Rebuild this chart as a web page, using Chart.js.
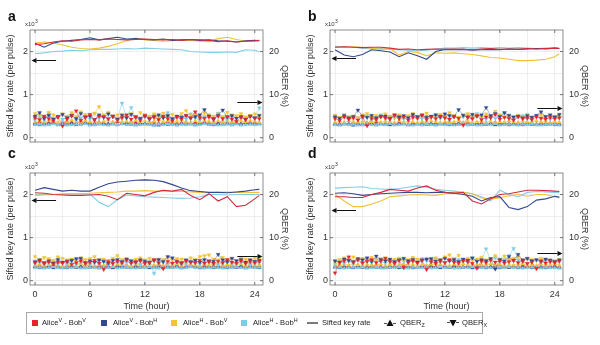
<!DOCTYPE html>
<html>
<head>
<meta charset="utf-8">
<script src="https://cdn.jsdelivr.net/npm/chart.js@4.4.1/dist/chart.umd.min.js"></script>
<style>
  html, body { margin: 0; padding: 0; background: #fff; }
  body { width: 600px; height: 345px; overflow: hidden; position: relative;
         font-family: "Liberation Sans", Arial, sans-serif; color: #222; }
  canvas.panel { position: absolute; }
  #legend { position: absolute; left: 26px; top: 312px; width: 455px; height: 20px;
            border: 1px solid #a8a8a8; font-size: 7.6px; }
  #legend .sw { position: absolute; top: 7px; width: 6px; height: 6px; }
  #legend .tx { position: absolute; top: 0; height: 20px; line-height: 20px; white-space: nowrap; }
  #legend .mk { position: absolute; top: 6px; }
  #legend sup { font-size: 5.4px; vertical-align: 3px; line-height: 0; }
  #legend sub { font-size: 5.4px; vertical-align: -1.5px; line-height: 0; }
</style>
</head>
<body>
<canvas id="pa" class="panel" width="300" height="160" style="left:0;top:0"></canvas>
<canvas id="pb" class="panel" width="300" height="160" style="left:300px;top:0"></canvas>
<canvas id="pc" class="panel" width="300" height="172" style="left:0;top:143px"></canvas>
<canvas id="pd" class="panel" width="300" height="172" style="left:300px;top:143px"></canvas>

<div id="legend">
  <span class="sw" style="left:5px;background:#e3262c"></span>
  <span class="tx" style="left:15px">Alice<sup>V</sup> - Bob<sup>V</sup></span>
  <span class="sw" style="left:74px;background:#32488e"></span>
  <span class="tx" style="left:86px">Alice<sup>V</sup> - Bob<sup>H</sup></span>
  <span class="sw" style="left:144px;background:#f3c431"></span>
  <span class="tx" style="left:156px">Alice<sup>H</sup> - Bob<sup>V</sup></span>
  <span class="sw" style="left:214px;background:#7dcbe6"></span>
  <span class="tx" style="left:226px">Alice<sup>H</sup> - Bob<sup>H</sup></span>
  <svg class="mk" style="left:280px" width="11" height="8"><line x1="0" y1="4" x2="11" y2="4" stroke="#222" stroke-width="1.2"/></svg>
  <span class="tx" style="left:295px">Sifted key rate</span>
  <svg class="mk" style="left:357px" width="12" height="8"><line x1="0" y1="4.5" x2="3" y2="4.5" stroke="#222" stroke-width="0.8"/><line x1="9" y1="4.5" x2="12" y2="4.5" stroke="#222" stroke-width="0.8"/><polygon points="6,0.5 9.5,7 2.5,7" fill="#111"/></svg>
  <span class="tx" style="left:373px">QBER<sub>Z</sub></span>
  <svg class="mk" style="left:420px" width="12" height="8"><line x1="0" y1="3.5" x2="3" y2="3.5" stroke="#222" stroke-width="0.8"/><line x1="9" y1="3.5" x2="12" y2="3.5" stroke="#222" stroke-width="0.8"/><polygon points="2.5,1 9.5,1 6,7.5" fill="#111"/></svg>
  <span class="tx" style="left:435px">QBER<sub>X</sub></span>
</div>

<script>
// ---- time bases (hours) ----
const lineHours = [0,1,2,3,4,5,6,7,8,9,10,11,12,13,14,15,16,17,18,19,20,21,22,23,24,24.5];
const qberHours = [
  0,0.5,1,1.5,2,2.5,3,3.5,4,4.5,
  5,5.5,6,6.5,7,7.5,8,8.5,9,9.5,
  10,10.5,11,11.5,12,12.5,13,13.5,14,14.5,
  15,15.5,16,16.5,17,17.5,18,18.5,19,19.5,
  20,20.5,21,21.5,22,22.5,23,23.5,24,24.5];

// ---- axis ticks and labels ----
const hourTicks = [0,3,6,9,12,15,18,21,24];
const hourTickLabels = ['0','','6','','12','','18','','24'];
const keyTicks = [0,0.5,1,1.5,2];
const keyTickLabels = ['0','','1','','2'];
const qberTicks = [0,5,10,15,20];
const qberTickLabels = ['0','','10','','20'];

// ---- panel a : sifted key rate (x10^-3 per pulse) ----
const aKeyRed    = [2.16,2.18,2.22,2.25,2.24,2.27,2.28,2.27,2.29,2.28,2.27,2.28,2.29,2.28,2.27,2.28,2.26,2.28,2.27,2.26,2.23,2.25,2.22,2.24,2.25,2.26];
const aKeyBlue   = [2.19,2.10,2.20,2.24,2.26,2.28,2.32,2.27,2.30,2.33,2.29,2.30,2.28,2.27,2.29,2.26,2.27,2.28,2.26,2.27,2.25,2.24,2.22,2.25,2.26,2.25];
const aKeyYellow = [2.20,2.22,2.20,2.15,2.10,2.07,2.06,2.08,2.12,2.18,2.25,2.31,2.27,2.26,2.24,2.25,2.27,2.26,2.24,2.23,2.30,2.33,2.28,2.24,2.25,2.25];
const aKeyCyan   = [1.95,1.97,2.00,2.01,2.03,2.02,2.04,2.05,2.05,2.06,2.07,2.06,2.08,2.07,2.06,2.05,2.04,2.00,1.99,1.98,1.98,1.99,1.98,2.04,2.03,1.99];
// panel a : QBER (%)
const aQzRed = [3.4,3.6,3.3,3.5,3.7,3.2,3.4,3.6,3.5,3.3, 3.8,3.4,3.5,3.3,3.6,3.4,3.2,3.5,3.7,3.4, 3.3,3.6,3.5,3.4,3.2,3.5,3.6,3.3,3.4,3.7, 3.5,3.3,3.4,3.6,3.2,3.5,3.4,3.6,3.3,3.5, 3.4,3.7,3.3,3.5,3.4,3.2,3.6,3.4,3.5,3.3];
const aQxRed = [4.6,4.2,5.0,4.4,3.9,4.8,2.7,4.3,5.1,6.2, 4.0,4.7,5.4,4.2,5.0,4.9,4.4,5.0,4.1,4.6, 5.3,4.3,4.8,4.0,5.2,4.5,4.7,4.2,5.0,4.4, 3.9,4.8,4.3,5.1,4.6,6.0,4.6,4.5,4.8,4.2, 5.0,4.4,4.9,4.3,3.8,4.7,4.2,5.0,4.5,4.4];
const aQzBlue = [3.2,3.0,3.3,3.1,3.4,3.0,3.2,3.1,3.3,3.0, 3.2,3.4,3.1,3.0,3.3,3.2,3.1,3.3,3.0,3.2, 3.4,3.1,3.0,3.2,3.3,3.1,3.0,2.9,3.2,3.1, 3.3,3.0,3.2,3.1,3.4,3.0,3.2,3.3,3.1,3.0, 3.2,3.1,3.3,3.0,3.2,3.1,3.4,3.2,3.1,3.3];
const aQxBlue = [5.0,5.8,4.5,5.2,4.3,4.9,5.4,4.6,5.1,4.4, 5.6,4.8,5.0,4.2,5.3,4.7,5.5,4.9,4.3,5.2, 4.6,5.4,4.8,4.5,5.0,4.3,4.9,5.3,4.6,5.1, 4.4,5.0,4.7,5.2,4.5,4.9,5.3,6.5,5.0,4.4, 5.2,6.4,4.8,5.1,4.5,4.9,4.3,5.0,4.6,5.2];
const aQzYellow = [3.7,3.9,3.6,4.0,3.8,3.5,3.9,3.7,4.1,3.8, 3.6,4.0,3.7,3.9,3.5,3.8,4.0,3.6,3.9,3.7, 3.8,3.6,4.0,3.7,3.9,3.6,3.8,4.1,3.7,3.9, 3.6,3.8,4.0,3.7,3.5,3.9,3.7,4.0,3.8,3.6, 3.9,3.7,4.0,3.6,3.8,3.9,3.7,4.0,3.8,3.6];
const aQxYellow = [5.6,5.2,4.8,5.9,5.3,4.7,5.5,5.0,5.8,4.9, 6.0,5.4,5.1,5.7,7.2,5.3,5.9,5.0,5.3,5.4, 5.1,5.6,4.9,5.8,5.3,5.0,5.5,4.8,5.7,5.2, 5.4,4.9,5.6,6.3,5.1,5.4,4.8,5.7,5.2,5.0, 5.5,4.9,5.9,5.3,5.1,5.6,4.8,5.2,5.5,5.0];
const aQzCyan = [3.0,3.1,2.9,3.0,3.2,3.0,3.1,2.9,3.0,3.1, 3.0,3.2,2.9,3.0,3.1,3.0,2.9,3.1,3.0,3.2, 3.0,3.1,2.9,3.0,3.1,3.0,2.8,3.1,3.0,3.2, 3.0,2.9,3.1,3.0,3.1,2.9,3.0,3.2,3.0,3.1, 2.9,3.0,3.1,3.0,3.2,2.9,3.0,3.1,3.0,3.1];
const aQxCyan = [4.2,4.8,4.0,5.5,4.4,5.0,4.3,4.7,5.3,4.1, 4.6,5.0,4.3,5.6,4.5,4.9,4.2,5.1,4.4,8.0, 4.8,7.0,4.6,4.3,5.0,4.5,5.2,4.4,4.9,5.8, 4.2,4.7,5.0,4.3,5.5,4.6,4.1,4.9,5.3,4.4, 5.7,4.6,4.2,5.0,4.5,4.8,4.3,5.1,4.6,6.9];

// ---- panel b ----
const bKeyRed    = [2.10,2.11,2.10,2.09,2.10,2.10,2.08,2.05,2.06,2.04,2.05,2.06,2.05,2.06,2.05,2.04,2.06,2.07,2.05,2.06,2.05,2.07,2.06,2.07,2.08,2.07];
const bKeyBlue   = [2.04,1.92,1.88,1.93,2.04,2.02,1.99,1.88,1.97,1.90,1.82,2.00,2.05,2.04,2.05,2.03,2.04,2.05,2.04,2.06,2.05,2.06,2.07,2.06,2.08,2.07];
const bKeyYellow = [2.10,2.10,2.11,2.10,2.08,2.05,2.07,1.92,2.00,1.98,1.90,1.97,1.96,1.97,1.95,1.93,1.90,1.86,1.85,1.82,1.79,1.79,1.80,1.82,1.88,1.95];
const bKeyCyan   = [2.12,2.11,2.10,2.08,2.06,2.07,2.05,2.04,2.03,2.02,2.03,2.06,2.08,2.08,2.09,2.08,2.09,2.08,2.09,2.08,2.09,2.08,2.07,2.08,2.08,2.08];
const bQzRed = [3.3,3.1,3.4,3.2,3.5,3.3,3.1,3.4,3.2,3.6, 3.3,3.1,3.4,3.2,3.5,3.3,3.0,3.4,3.2,3.3, 3.5,3.1,3.4,3.2,3.3,3.6,3.1,3.4,3.2,3.5, 3.3,3.2,3.4,3.1,3.3,3.5,3.2,3.4,3.3,3.1, 3.4,3.2,3.5,3.3,3.1,3.4,3.2,3.3,3.5,3.2];
const bQxRed = [4.4,4.0,4.8,4.3,4.6,4.1,4.9,2.8,4.5,4.2, 5.0,4.6,4.3,5.2,4.4,4.8,4.1,4.7,4.5,5.3, 4.2,4.8,4.4,5.0,4.6,4.3,4.9,4.5,2.9,4.7, 4.4,5.1,4.2,4.8,4.6,5.4,4.3,4.7,4.5,4.1, 4.9,4.4,4.6,4.2,4.8,4.5,4.3,4.7,4.4,4.6];
const bQzBlue = [3.1,3.0,3.2,3.1,2.9,3.2,3.0,3.1,3.3,3.0, 3.2,3.1,3.0,3.2,3.1,3.3,3.0,3.1,3.2,3.0, 3.1,3.3,3.0,3.2,3.1,3.0,3.2,3.1,3.3,3.0, 3.1,3.2,3.0,3.1,3.2,3.0,3.1,3.3,3.0,3.2, 3.1,3.0,3.2,3.1,3.0,3.2,3.1,3.3,3.0,3.1];
const bQxBlue = [4.8,4.5,5.1,4.6,4.9,6.4,5.0,4.7,5.2,4.6, 4.9,5.0,4.5,5.3,4.8,5.1,4.6,5.4,4.9,5.2, 4.7,5.0,5.3,4.8,5.5,5.1,4.9,6.5,5.2,4.8, 5.4,5.0,5.3,7.0,5.1,5.6,4.9,5.8,5.2,4.8, 5.0,4.6,5.1,4.7,5.2,6.0,4.9,5.3,4.8,5.4];
const bQzYellow = [3.6,3.8,3.5,3.9,3.7,3.6,3.8,3.5,3.7,3.9, 3.6,3.8,3.7,3.5,3.9,3.6,3.8,3.7,3.5,3.8, 3.6,3.9,3.7,3.5,3.8,3.6,3.7,3.9,3.5,3.8, 3.6,3.7,3.9,3.6,3.8,3.5,3.7,3.6,3.9,3.7, 3.5,3.8,3.6,3.7,3.9,3.6,3.8,3.5,3.7,3.6];
const bQxYellow = [5.1,4.7,5.4,4.9,5.0,4.6,5.3,5.6,4.8,5.2, 4.7,5.5,5.0,4.9,5.3,4.8,5.1,5.6,4.9,5.2, 5.7,4.8,5.0,5.4,4.9,5.8,5.1,4.7,5.3,5.6, 4.9,5.2,4.8,5.5,5.0,6.1,5.3,4.9,5.1,4.7, 5.2,4.9,5.4,4.8,5.0,5.3,4.7,5.1,4.9,5.2];
const bQzCyan = [3.0,2.9,3.1,3.0,3.1,2.9,3.0,3.2,3.0,2.9, 3.1,3.0,3.2,2.9,3.0,3.1,3.0,2.9,3.1,3.0, 3.2,3.0,2.9,3.1,3.0,3.1,2.9,3.0,3.2,3.0, 3.1,2.9,3.0,3.1,3.0,3.2,2.9,3.0,3.1,3.0, 2.9,3.1,3.0,3.2,3.0,2.9,3.1,3.0,3.1,2.9];
const bQxCyan = [5.2,4.5,4.8,4.3,5.0,4.6,4.4,5.1,4.2,4.7, 5.3,4.4,4.9,4.5,5.0,4.3,4.8,5.2,4.6,4.4, 5.0,4.7,5.3,4.5,4.9,4.2,5.1,4.6,4.8,5.4, 4.4,5.6,4.7,4.3,5.0,4.5,4.9,5.7,4.6,4.3, 4.8,5.1,4.4,4.7,5.0,4.5,4.9,4.3,4.6,4.8];

// ---- panel c ----
const cKeyRed    = [2.04,2.03,2.00,1.99,1.98,1.98,1.99,2.00,1.96,1.88,2.03,2.00,1.97,2.05,2.10,2.08,2.12,1.98,1.88,2.02,1.85,1.95,1.72,1.75,1.90,1.98];
const cKeyBlue   = [2.10,2.16,2.12,2.08,2.10,2.08,2.08,2.17,2.25,2.29,2.31,2.33,2.34,2.33,2.30,2.23,2.15,2.09,2.07,2.05,2.05,2.04,2.06,2.08,2.11,2.12];
const cKeyYellow = [1.98,1.99,2.00,2.01,2.02,2.02,2.03,2.04,2.05,2.06,2.08,2.08,2.09,2.08,2.08,2.07,2.08,2.06,2.05,2.04,2.05,2.06,2.05,2.04,2.05,2.05];
const cKeyCyan   = [2.00,2.00,2.00,2.01,2.02,2.02,2.01,1.82,1.72,1.88,1.99,1.97,1.95,1.94,1.93,1.92,1.91,1.92,1.95,2.00,2.00,1.99,2.00,2.00,2.00,2.00];
const cQzRed = [3.3,3.5,3.2,3.4,3.6,3.3,3.1,3.4,3.5,3.2, 3.3,3.6,3.4,3.2,3.5,3.3,3.4,3.1,3.5,3.3, 3.6,3.2,3.4,3.3,3.5,3.2,3.4,3.6,3.3,3.1, 3.4,3.5,3.2,3.3,3.6,3.4,3.2,3.5,3.3,3.4, 3.1,3.5,3.3,3.6,3.2,3.4,3.3,3.5,3.2,3.4];
const cQxRed = [4.2,4.6,4.0,4.4,3.9,4.3,4.1,4.5,3.8,4.2, 4.6,4.0,4.3,4.7,4.1,2.6,4.4,4.0,4.5,4.2, 4.8,4.1,4.4,4.6,4.0,4.3,4.9,4.2,2.8,4.5, 4.1,4.4,4.0,4.6,4.3,4.2,4.7,4.1,4.4,4.0, 4.5,4.2,4.9,4.3,4.1,4.6,4.0,4.4,4.2,4.5];
const cQzBlue = [3.2,3.0,3.1,3.3,3.0,3.2,3.1,3.0,3.3,3.1, 3.2,3.0,3.1,3.3,3.0,3.2,3.1,3.0,3.2,3.3, 3.1,3.0,3.2,3.1,3.3,3.0,3.1,3.2,3.0,3.3, 3.1,3.2,3.0,3.1,3.3,3.2,3.0,3.1,3.2,3.0, 3.3,3.1,3.0,3.2,3.1,3.3,3.0,3.2,3.1,3.0];
const cQxBlue = [4.4,4.8,4.2,4.6,4.1,4.9,4.3,4.5,4.7,5.1, 5.2,4.2,4.6,4.3,4.8,4.5,4.1,4.7,4.9,4.4, 5.0,4.6,4.3,4.8,4.5,4.2,4.7,4.9,4.4,5.6, 5.3,4.5,4.2,4.8,4.4,4.7,4.3,4.9,4.6,4.5, 6.1,4.8,4.4,5.2,4.6,4.9,4.3,4.8,4.5,4.7];
const cQzYellow = [3.6,3.8,3.5,3.7,3.9,3.6,3.4,3.8,3.7,3.5, 3.9,3.6,3.8,3.5,3.7,3.6,3.9,3.5,3.8,3.7, 3.6,3.4,3.8,3.7,3.5,3.9,3.6,3.8,3.5,3.7, 3.6,3.9,3.5,3.8,3.7,3.6,3.5,3.8,3.6,3.9, 3.7,3.5,3.8,3.6,3.7,3.9,3.5,3.8,3.6,3.7];
const cQxYellow = [5.6,4.9,5.4,5.1,4.7,5.5,5.2,4.8,5.0,4.6, 5.3,4.9,5.1,5.6,4.8,5.0,4.7,5.2,5.8,4.9, 5.1,4.6,5.0,5.3,4.8,5.2,4.7,5.0,4.9,5.4, 4.8,5.1,5.0,4.7,5.3,4.9,5.6,5.8,6.0,5.0, 4.8,5.4,4.9,5.1,4.7,5.2,5.0,4.8,5.3,4.9];
const cQzCyan = [3.0,3.1,2.9,3.0,3.2,3.0,2.9,3.1,3.0,3.2, 2.9,3.0,3.1,3.0,2.9,3.1,3.0,3.2,2.9,3.0, 3.1,3.0,2.9,3.1,3.0,3.2,3.0,2.9,3.1,3.0, 3.0,3.1,2.9,3.0,3.2,3.0,3.1,2.9,3.0,3.1, 3.0,2.9,3.1,3.0,3.2,3.0,2.9,3.1,3.0,3.1];
const cQxCyan = [4.0,4.3,3.8,4.1,4.4,3.9,4.2,4.0,4.5,3.8, 4.2,4.1,3.9,4.3,4.0,4.4,3.7,4.1,4.2,3.9, 4.3,4.0,4.1,3.8,4.2,4.4,1.7,4.0,4.3,3.9, 4.1,4.2,3.8,4.0,4.3,4.1,3.9,4.2,4.4,4.0, 3.8,4.1,4.3,4.0,3.9,4.2,4.1,3.8,4.0,4.2];

// ---- panel d ----
const dKeyRed    = [1.95,1.95,1.93,1.93,2.00,2.05,2.12,2.10,2.08,2.15,2.20,2.10,2.05,2.03,2.05,1.85,1.78,1.90,2.00,2.02,2.06,2.10,2.10,2.09,2.08,2.07];
const dKeyBlue   = [2.03,2.04,2.02,1.98,2.00,2.02,2.03,2.04,2.05,2.05,2.04,2.05,2.05,2.03,2.00,1.96,1.85,1.93,1.95,1.70,1.65,1.72,1.87,1.90,1.96,1.94];
const dKeyYellow = [2.00,1.85,1.72,1.72,1.78,1.85,1.95,1.97,1.99,2.00,1.99,1.98,2.02,2.05,2.05,2.02,1.92,1.90,1.92,1.97,2.00,1.96,2.00,2.00,1.95,1.92];
const dKeyCyan   = [2.15,2.16,2.17,2.18,2.14,2.13,2.12,2.14,2.17,2.20,2.17,2.12,2.10,2.08,2.05,2.02,1.95,1.85,2.10,2.00,1.95,2.05,2.07,2.06,2.05,2.04];
const dQzRed = [3.3,3.5,3.2,3.4,3.1,3.5,3.3,3.2,3.4,3.6, 3.3,3.1,3.4,3.2,3.5,3.3,3.4,3.2,3.1,3.5, 3.3,3.4,3.2,3.6,3.3,3.1,3.4,3.5,3.2,3.3, 3.4,3.1,3.5,3.3,3.2,3.4,3.6,3.3,3.1,3.4, 3.2,3.5,3.3,3.4,3.2,3.1,3.5,3.3,3.4,3.2];
const dQxRed = [1.8,4.2,4.6,5.5,4.3,4.8,4.1,4.5,4.9,4.2, 4.6,5.2,4.4,4.0,4.7,3.0,4.3,4.6,4.1,4.8, 2.6,4.4,4.0,4.5,4.2,4.9,4.3,4.1,4.6,4.4, 4.0,2.9,4.5,4.2,4.8,4.3,4.6,4.1,4.4,4.7, 4.2,4.5,4.0,4.3,2.8,4.6,4.1,4.4,4.2,4.5];
const dQzBlue = [3.1,3.0,3.2,3.1,3.0,3.3,3.1,3.0,3.2,3.1, 3.0,3.2,3.1,3.3,3.0,3.1,3.2,3.0,3.1,3.3, 3.0,3.2,3.1,3.0,3.2,3.1,3.3,3.0,3.1,3.2, 3.0,3.1,3.3,3.0,3.2,3.1,3.0,3.2,3.1,3.3, 3.0,3.1,3.2,3.0,3.1,3.2,3.0,3.1,3.2,3.0];
const dQxBlue = [4.6,4.3,5.0,4.7,4.4,5.1,4.8,5.3,4.5,5.7, 4.9,4.6,5.0,4.4,4.8,5.2,4.6,4.9,4.3,4.7, 5.0,5.1,4.5,4.8,5.2,4.6,4.9,4.4,5.0,4.7, 5.3,4.5,4.8,4.6,5.1,2.7,4.9,4.5,5.6,4.7, 6.1,4.8,5.2,4.6,4.9,4.5,5.0,4.7,4.4,4.8];
const dQzYellow = [3.7,3.5,3.8,3.6,3.9,3.7,3.5,3.8,3.6,3.7, 3.9,3.5,3.8,3.6,3.7,3.9,3.6,3.8,3.5,3.7, 3.6,3.8,3.9,3.6,3.7,3.5,3.8,3.6,3.9,3.7, 3.5,3.8,3.6,3.7,3.9,3.6,3.8,3.5,3.7,3.6, 3.8,3.9,3.6,3.7,3.5,3.8,3.6,3.7,3.9,3.6];
const dQxYellow = [4.3,4.9,5.3,4.7,5.5,5.0,5.2,4.8,5.4,4.9, 5.1,5.3,4.7,5.0,5.2,4.8,4.9,5.4,5.0,4.7, 5.1,4.9,5.3,4.8,5.5,6.0,5.1,5.9,4.9,5.2, 4.7,5.0,5.4,4.8,5.1,5.8,5.0,5.7,4.9,5.2, 5.5,4.8,5.1,4.9,4.7,5.2,5.0,4.8,4.6,4.9];
const dQzCyan = [3.0,3.1,2.9,3.0,3.1,3.0,3.2,2.9,3.0,3.1, 3.0,2.9,3.1,3.0,3.2,3.0,2.9,3.1,3.0,3.0, 3.1,2.9,3.0,3.2,3.0,3.1,2.9,3.0,3.1,3.0, 3.2,2.9,3.0,3.1,3.0,2.9,3.1,3.0,3.2,3.0, 3.1,2.9,3.0,3.1,3.0,2.9,3.1,3.0,3.0,2.9];
const dQxCyan = [3.8,4.4,4.1,4.6,4.0,4.8,4.3,4.5,4.2,4.9, 4.4,4.1,4.7,4.3,5.0,4.5,4.2,4.8,4.4,5.1, 4.6,4.3,5.0,4.5,4.2,4.7,4.4,4.9,4.6,4.3, 5.2,4.5,5.0,7.4,4.7,5.3,4.6,4.9,5.8,7.5, 4.8,4.5,5.0,4.4,4.7,4.3,4.6,4.9,4.5,4.7];

// level of the axis-indicator arrows: key-rate side and QBER side, per panel
const keyArrowLevel  = [1.81, 1.85, 1.87, 1.65];
const qberArrowLevel = [8.2, 6.8, 5.8, 6.5];
const arrowTailHours = [2.3, 22.1];

// ---- styling ----
const FONT = '"Liberation Sans", Arial, sans-serif';
const SERIES_COLORS = ['#e3262c', '#32488e', '#f3c431', '#7dcbe6'];
const LINE_COLORS   = ['#d22a3c', '#34498d', '#f1c236', '#84cde6'];
const LINK_COLORS   = ['rgba(227,38,44,0.7)', 'rgba(50,72,142,0.7)', 'rgba(243,196,49,0.85)', 'rgba(125,203,230,0.9)'];
// stacking order of the QBER layers (first one ends up on top):
// X markers above, then the Z markers with the light series uppermost
const QBER_LAYERS = [['qx', 0], ['qx', 1], ['qx', 2], ['qx', 3],
                     ['qz', 3], ['qz', 2], ['qz', 1], ['qz', 0]];

Chart.defaults.font.family = FONT;

function toPoints(xs, ys) { return ys.map((y, i) => ({ x: xs[i], y })); }

function drawArrow(ctx, x0, y, x1) {
  const dir = Math.sign(x1 - x0), hl = 5, hw = 2.4;
  ctx.beginPath(); ctx.moveTo(x0, y); ctx.lineTo(x1 - dir * hl, y); ctx.stroke();
  ctx.beginPath(); ctx.moveTo(x1, y); ctx.lineTo(x1 - dir * hl, y - hw); ctx.lineTo(x1 - dir * hl, y + hw);
  ctx.closePath(); ctx.fill();
}

// panel letter, exponent, frame, inward tick marks and axis arrows
const panelDecor = {
  id: 'panelDecor',
  afterDatasetsDraw(chart, args, o) {
    const { ctx, chartArea: a, scales: { x, yL, yR } } = chart;
    ctx.save();
    ctx.strokeStyle = '#111'; ctx.fillStyle = '#111'; ctx.lineWidth = 1;
    drawArrow(ctx, x.getPixelForValue(arrowTailHours[0]), Math.round(yL.getPixelForValue(o.keyArrow)) + 0.5, a.left + 1.5);
    drawArrow(ctx, x.getPixelForValue(arrowTailHours[1]), Math.round(yR.getPixelForValue(o.qberArrow)) + 0.5, a.right - 0.5);
    ctx.restore();
  },
  afterDraw(chart, args, o) {
    const { ctx, chartArea: a, scales: { x, yL, yR } } = chart;
    ctx.save();
    ctx.strokeStyle = '#707070'; ctx.lineWidth = 0.8;
    ctx.strokeRect(a.left, a.top, a.right - a.left, a.bottom - a.top);
    ctx.strokeStyle = '#555'; ctx.beginPath();
    hourTicks.forEach((v, i) => {
      if (!hourTickLabels[i]) return;
      const px = x.getPixelForValue(v);
      ctx.moveTo(px, a.bottom); ctx.lineTo(px, a.bottom - 3);
      ctx.moveTo(px, a.top); ctx.lineTo(px, a.top + 3);
    });
    keyTicks.forEach((v, i) => {
      if (!keyTickLabels[i]) return;
      const py = yL.getPixelForValue(v);
      ctx.moveTo(a.left, py); ctx.lineTo(a.left + 3, py);
    });
    qberTicks.forEach((v, i) => {
      if (!qberTickLabels[i]) return;
      const py = yR.getPixelForValue(v);
      ctx.moveTo(a.right, py); ctx.lineTo(a.right - 3, py);
    });
    ctx.stroke();

    ctx.fillStyle = '#111';
    ctx.textBaseline = 'alphabetic';
    ctx.font = 'bold 14px ' + FONT;
    ctx.fillText(o.letter, o.letterX, o.letterY);

    ctx.fillStyle = '#333';
    ctx.font = '6px ' + FONT;
    const ex = a.left - 5, ey = a.top - 4.5;
    ctx.fillText('x10', ex, ey);
    const w = ctx.measureText('x10').width;
    ctx.font = '5px ' + FONT;
    ctx.fillText('3', ex + w + 0.3, ey - 3);
    ctx.restore();
  }
};

function buildPanel(id, idx, cfg) {
  const datasets = [];
  for (let s = 0; s < 4; s++) {
    datasets.push({
      data: toPoints(lineHours, cfg.key[s]), yAxisID: 'yL',
      borderColor: LINE_COLORS[s], borderWidth: 1.1, pointRadius: 0, tension: 0
    });
  }
  QBER_LAYERS.forEach(([kind, s]) => {
    datasets.push({
      data: toPoints(qberHours, cfg[kind][s]), yAxisID: 'yR',
      borderColor: LINK_COLORS[s], borderWidth: 0.6, tension: 0,
      pointStyle: 'triangle', pointRotation: kind === 'qx' ? 180 : 0, pointRadius: 2.3,
      pointBackgroundColor: SERIES_COLORS[s], pointBorderColor: SERIES_COLORS[s], pointBorderWidth: 0.3
    });
  });
  const tickFont = { size: 9, family: FONT };
  const titleFont = { size: 9, family: FONT };
  new Chart(document.getElementById(id), {
    type: 'line',
    data: { datasets },
    plugins: [panelDecor],
    options: {
      responsive: false, animation: false, events: [],
      layout: { padding: { top: 30, left: 0, right: 0, bottom: 0 } },
      plugins: {
        legend: { display: false }, tooltip: { enabled: false },
        panelDecor: {
          letter: cfg.letter, letterX: 8, letterY: cfg.letterY,
          keyArrow: keyArrowLevel[idx], qberArrow: qberArrowLevel[idx]
        }
      },
      scales: {
        x: {
          type: 'linear', min: -0.55, max: 24.9,
          afterBuildTicks: s => { s.ticks = hourTicks.map(v => ({ value: v })); },
          afterFit: s => { s.height = cfg.bottomRow ? 30 : 18; },
          grid: { color: '#e6e6e6', lineWidth: 0.7, drawTicks: false },
          border: { display: false },
          ticks: { display: cfg.bottomRow, padding: 4, font: tickFont, color: '#333',
                   maxRotation: 0, autoSkip: false, callback: (v, i) => hourTickLabels[i] },
          title: { display: cfg.bottomRow, text: 'Time (hour)', font: titleFont, color: '#333',
                   padding: { top: 0, bottom: 3.5 } }
        },
        yL: {
          type: 'linear', position: 'left', min: -0.1, max: 2.5,
          afterBuildTicks: s => { s.ticks = keyTicks.map(v => ({ value: v })); },
          afterFit: s => { s.width = 30; },
          grid: { color: '#e6e6e6', lineWidth: 0.7, drawTicks: false },
          border: { display: false },
          ticks: { padding: 2, font: tickFont, color: '#333', autoSkip: false,
                   callback: (v, i) => keyTickLabels[i] },
          title: { display: true, text: 'Sifted key rate (per pulse)', font: titleFont, color: '#333',
                   padding: { top: 5.5, bottom: 0 } }
        },
        yR: {
          type: 'linear', position: 'right', min: -1, max: 25,
          afterBuildTicks: s => { s.ticks = qberTicks.map(v => ({ value: v })); },
          afterFit: s => { s.width = 37; },
          grid: { display: false, drawTicks: false },
          border: { display: false },
          ticks: { padding: 6, font: tickFont, color: '#333', autoSkip: false,
                   callback: (v, i) => qberTickLabels[i] },
          title: { display: true, text: 'QBER (%)', font: titleFont, color: '#333',
                   padding: { top: 10.5, bottom: 0 } }
        }
      }
    }
  });
}

buildPanel('pa', 0, { letter: 'a', letterY: 21, bottomRow: false,
  key: [aKeyRed, aKeyBlue, aKeyYellow, aKeyCyan],
  qz: [aQzRed, aQzBlue, aQzYellow, aQzCyan], qx: [aQxRed, aQxBlue, aQxYellow, aQxCyan] });
buildPanel('pb', 1, { letter: 'b', letterY: 21, bottomRow: false,
  key: [bKeyRed, bKeyBlue, bKeyYellow, bKeyCyan],
  qz: [bQzRed, bQzBlue, bQzYellow, bQzCyan], qx: [bQxRed, bQxBlue, bQxYellow, bQxCyan] });
buildPanel('pc', 2, { letter: 'c', letterY: 15, bottomRow: true,
  key: [cKeyRed, cKeyBlue, cKeyYellow, cKeyCyan],
  qz: [cQzRed, cQzBlue, cQzYellow, cQzCyan], qx: [cQxRed, cQxBlue, cQxYellow, cQxCyan] });
buildPanel('pd', 3, { letter: 'd', letterY: 15, bottomRow: true,
  key: [dKeyRed, dKeyBlue, dKeyYellow, dKeyCyan],
  qz: [dQzRed, dQzBlue, dQzYellow, dQzCyan], qx: [dQxRed, dQxBlue, dQxYellow, dQxCyan] });
</script>
</body>
</html>
